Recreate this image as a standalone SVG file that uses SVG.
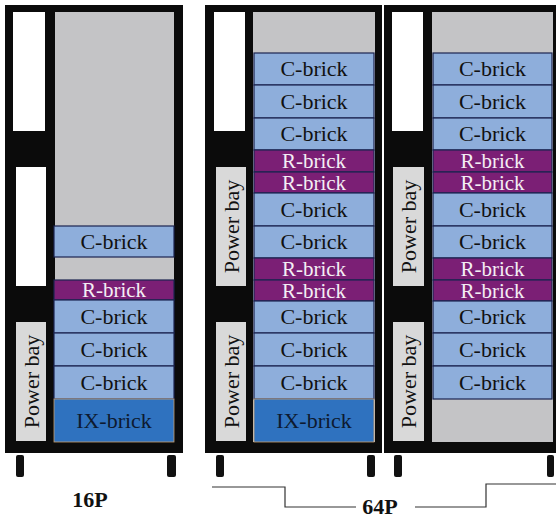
<svg xmlns="http://www.w3.org/2000/svg" width="556" height="514" viewBox="0 0 556 514">
<style>
.frame{fill:#0b0b0b}
.slot{fill:#ffffff}
.bay{fill:#d9d9d9}
.inner{fill:#c4c4c6}
.foot{fill:#111111}
.c{fill:#8eaedb;stroke:#1b2450;stroke-width:1.2}
.r{fill:#7b1f75;stroke:#1b2450;stroke-width:1.2}
.ix{fill:#2f72bf;stroke:#c8a070;stroke-width:0.8}
text{font-size:22px;text-anchor:middle}
.rt{font-size:21px}
.tc{fill:#111111}
.tr{fill:#f4eef4}
.tix{fill:#0d1a30}
.tb{fill:#111111}
.lbl{font-weight:bold;fill:#111111}
.conn{fill:none;stroke:#333333;stroke-width:1.2}
</style>
<g font-family="Liberation Serif, Times New Roman, serif">
<g id="rack16">
<rect class="frame" x="5" y="5" width="178" height="448"/>
<rect class="slot" x="13" y="12" width="32" height="119"/>
<rect class="slot" x="16" y="167" width="30" height="119"/>
<g id="r1-bay"><rect class="bay" x="16" y="322" width="30" height="119"/><text class="tb" transform="translate(38.5,381.5) rotate(-90)">Power bay</text></g>
<rect class="inner" x="55" y="12" width="119" height="430"/>
<g id="r1-c1"><rect class="c" x="54" y="226" width="120" height="31"/><text class="tc" x="114" y="249">C-brick</text></g>
<g id="r1-r1"><rect class="r" x="54" y="280" width="120" height="20"/><text class="tr rt" x="114" y="297">R-brick</text></g>
<g id="r1-c2"><rect class="c" x="54" y="300" width="120" height="33"/><text class="tc" x="114" y="324">C-brick</text></g>
<g id="r1-c3"><rect class="c" x="54" y="333" width="120" height="33"/><text class="tc" x="114" y="357">C-brick</text></g>
<g id="r1-c4"><rect class="c" x="54" y="366" width="120" height="33"/><text class="tc" x="114" y="390">C-brick</text></g>
<g id="r1-ix"><rect class="ix" x="54" y="399" width="120" height="43"/><text class="tix" x="114" y="428">IX-brick</text></g>
<rect class="foot" x="16" y="455" width="8" height="22" rx="2"/>
<rect class="foot" x="167" y="455" width="9" height="22" rx="2"/>
</g>
<g id="rack64a">
<rect class="frame" x="205" y="5" width="177" height="448"/>
<rect class="slot" x="214" y="12" width="31" height="119"/>
<g id="r2-bay1"><rect class="bay" x="216" y="167" width="30" height="119"/><text class="tb" transform="translate(238.5,226.5) rotate(-90)">Power bay</text></g>
<g id="r2-bay2"><rect class="bay" x="216" y="322" width="30" height="119"/><text class="tb" transform="translate(238.5,381.5) rotate(-90)">Power bay</text></g>
<rect class="inner" x="253" y="12" width="122" height="430"/>
<g id="r2-c1"><rect class="c" x="254" y="53" width="120" height="32"/><text class="tc" x="314" y="76">C-brick</text></g>
<g id="r2-c2"><rect class="c" x="254" y="85" width="120" height="33"/><text class="tc" x="314" y="109">C-brick</text></g>
<g id="r2-c3"><rect class="c" x="254" y="118" width="120" height="32"/><text class="tc" x="314" y="141">C-brick</text></g>
<g id="r2-r1"><rect class="r" x="254" y="150" width="120" height="22"/><text class="tr rt" x="314" y="168">R-brick</text></g>
<g id="r2-r2"><rect class="r" x="254" y="172" width="120" height="21"/><text class="tr rt" x="314" y="190">R-brick</text></g>
<g id="r2-c4"><rect class="c" x="254" y="193" width="120" height="33"/><text class="tc" x="314" y="217">C-brick</text></g>
<g id="r2-c5"><rect class="c" x="254" y="226" width="120" height="32"/><text class="tc" x="314" y="249">C-brick</text></g>
<g id="r2-r3"><rect class="r" x="254" y="258" width="120" height="22"/><text class="tr rt" x="314" y="276">R-brick</text></g>
<g id="r2-r4"><rect class="r" x="254" y="280" width="120" height="21"/><text class="tr rt" x="314" y="298">R-brick</text></g>
<g id="r2-c6"><rect class="c" x="254" y="301" width="120" height="32"/><text class="tc" x="314" y="324">C-brick</text></g>
<g id="r2-c7"><rect class="c" x="254" y="333" width="120" height="33"/><text class="tc" x="314" y="357">C-brick</text></g>
<g id="r2-c8"><rect class="c" x="254" y="366" width="120" height="33"/><text class="tc" x="314" y="390">C-brick</text></g>
<g id="r2-ix"><rect class="ix" x="254" y="399" width="120" height="43"/><text class="tix" x="314" y="428">IX-brick</text></g>
<rect class="foot" x="216" y="455" width="8" height="22" rx="2"/>
<rect class="foot" x="367" y="455" width="8" height="22" rx="2"/>
</g>
<g id="rack64b">
<rect class="frame" x="384" y="5" width="172" height="448"/>
<rect class="slot" x="392" y="12" width="31" height="119"/>
<g id="r3-bay1"><rect class="bay" x="393" y="167" width="31" height="119"/><text class="tb" transform="translate(416,226.5) rotate(-90)">Power bay</text></g>
<g id="r3-bay2"><rect class="bay" x="393" y="322" width="31" height="119"/><text class="tb" transform="translate(416,381.5) rotate(-90)">Power bay</text></g>
<rect class="inner" x="432" y="12" width="121" height="430"/>
<g id="r3-c1"><rect class="c" x="433" y="53" width="119" height="32"/><text class="tc" x="492.5" y="76">C-brick</text></g>
<g id="r3-c2"><rect class="c" x="433" y="85" width="119" height="33"/><text class="tc" x="492.5" y="109">C-brick</text></g>
<g id="r3-c3"><rect class="c" x="433" y="118" width="119" height="32"/><text class="tc" x="492.5" y="141">C-brick</text></g>
<g id="r3-r1"><rect class="r" x="433" y="150" width="119" height="22"/><text class="tr rt" x="492.5" y="168">R-brick</text></g>
<g id="r3-r2"><rect class="r" x="433" y="172" width="119" height="21"/><text class="tr rt" x="492.5" y="190">R-brick</text></g>
<g id="r3-c4"><rect class="c" x="433" y="193" width="119" height="33"/><text class="tc" x="492.5" y="217">C-brick</text></g>
<g id="r3-c5"><rect class="c" x="433" y="226" width="119" height="32"/><text class="tc" x="492.5" y="249">C-brick</text></g>
<g id="r3-r3"><rect class="r" x="433" y="258" width="119" height="22"/><text class="tr rt" x="492.5" y="276">R-brick</text></g>
<g id="r3-r4"><rect class="r" x="433" y="280" width="119" height="21"/><text class="tr rt" x="492.5" y="298">R-brick</text></g>
<g id="r3-c6"><rect class="c" x="433" y="301" width="119" height="32"/><text class="tc" x="492.5" y="324">C-brick</text></g>
<g id="r3-c7"><rect class="c" x="433" y="333" width="119" height="33"/><text class="tc" x="492.5" y="357">C-brick</text></g>
<g id="r3-c8"><rect class="c" x="433" y="366" width="119" height="33"/><text class="tc" x="492.5" y="390">C-brick</text></g>
<rect class="foot" x="394" y="455" width="8" height="22" rx="2"/>
<rect class="foot" x="547" y="455" width="7" height="22" rx="2"/>
</g>
<g id="labels">
<text class="lbl" x="90" y="507">16P</text>
<text class="lbl" x="380" y="514">64P</text>
</g>
</g>
<g id="connectors">
<polyline class="conn" points="212,487 285,487 285,507 356,507"/>
<polyline class="conn" points="415,507 486,507 486,484 556,484"/>
</g>
</svg>
